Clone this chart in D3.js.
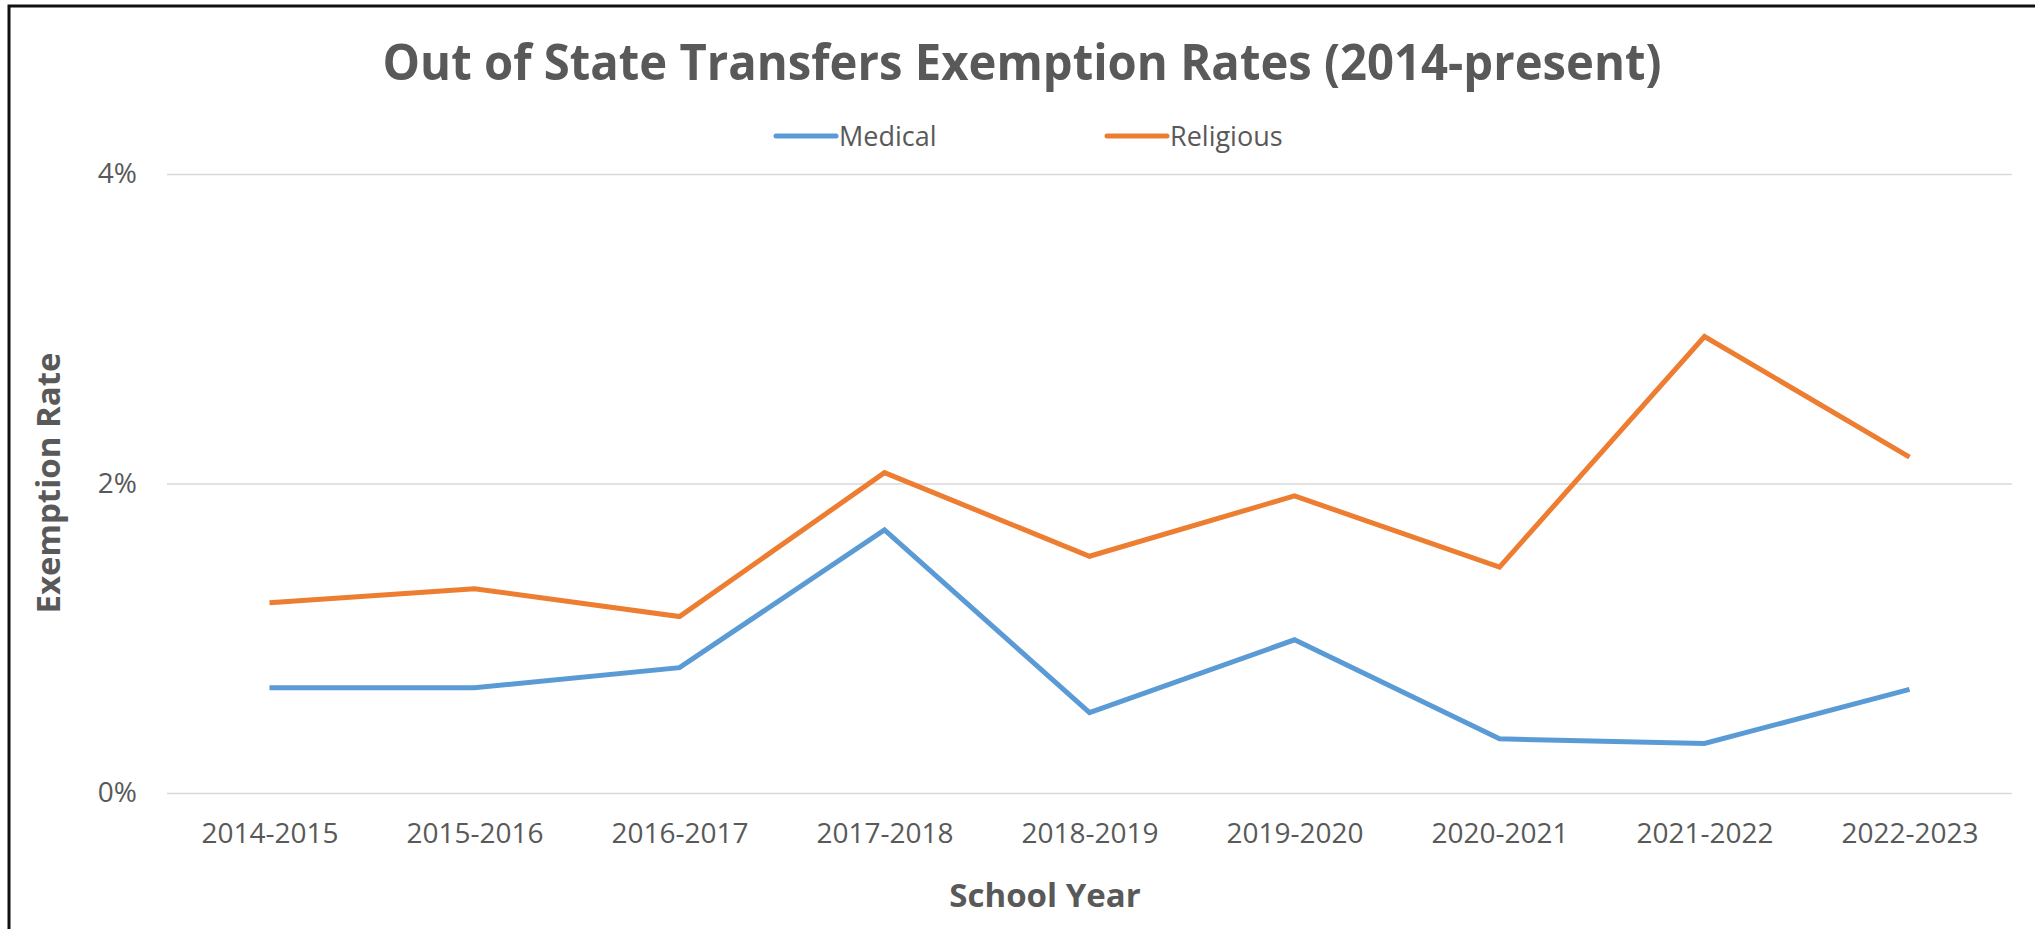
<!DOCTYPE html>
<html>
<head>
<meta charset="utf-8">
<script src="https://cdn.jsdelivr.net/npm/d3@7"></script>
<style>
  html, body { margin: 0; padding: 0; background: #ffffff; }
  svg { display: block; }
  text { font-family: "Open Sans", "Noto Sans", sans-serif; fill: #595959; }
</style>
</head>
<body>
<div id="chart"></div>
<script>
// data
var schoolYears = ['2014-2015', '2015-2016', '2016-2017', '2017-2018', '2018-2019',
                   '2019-2020', '2020-2021', '2021-2022', '2022-2023'];
var medicalRates = [0.0068, 0.0068, 0.0081, 0.0170, 0.0052, 0.0099, 0.0035, 0.0032, 0.0067];
var religiousRates = [0.0123, 0.0132, 0.0114, 0.0207, 0.0153, 0.0192, 0.0146, 0.0295, 0.0217];
var yTicks = [0, 0.02, 0.04];
var seriesNames = ['Medical', 'Religious'];
var seriesColors = ['#5B9BD5', '#ED7D31'];

// some constants for the page
var chartWidth = 2035;
var chartHeight = 929;
var plotLeft = 167;
var plotRight = 2012;
var plotTop = 174;
var plotBottom = 793;

var svg = d3.select('div#chart')
    .append('svg')
    .attr('width', chartWidth)
    .attr('height', chartHeight);

svg.append('rect')
    .attr('x', 0)
    .attr('y', 0)
    .attr('width', chartWidth)
    .attr('height', chartHeight)
    .attr('fill', '#ffffff');

// dark frame on the top and left edges
svg.append('path')
    .attr('d', 'M9,' + chartHeight + ' L9,6 L' + chartWidth + ',6')
    .attr('fill', 'none')
    .attr('stroke', '#111111')
    .attr('stroke-width', 3);

// scales
var x = d3.scalePoint()
    .domain(schoolYears)
    .range([plotLeft, plotRight])
    .padding(0.5);

var y = d3.scaleLinear()
    .domain([0, 0.04])
    .range([plotBottom, plotTop]);

// gridlines + y tick labels
var yAxis = d3.axisLeft(y)
    .tickValues(yTicks)
    .tickSize(-(plotRight - plotLeft))
    .tickPadding(30)
    .tickFormat(d3.format('.0%'));

var yAxisG = svg.append('g')
    .attr('transform', 'translate(' + plotLeft + ',0)')
    .call(yAxis);
yAxisG.select('.domain').remove();
yAxisG.selectAll('.tick line')
    .attr('stroke', '#D9D9D9')
    .attr('stroke-width', 1.5);
yAxisG.selectAll('.tick text')
    .style('font-size', '28px')
    .attr('fill', '#595959');

// x tick labels
var xAxis = d3.axisBottom(x)
    .tickSize(0)
    .tickPadding(30);

var xAxisG = svg.append('g')
    .attr('transform', 'translate(0,' + plotBottom + ')')
    .call(xAxis);
xAxisG.select('.domain').remove();
xAxisG.selectAll('.tick text')
    .style('font-size', '28px')
    .attr('fill', '#595959');

// the two lines
var line = d3.line()
    .x(function(d, i) { return x(schoolYears[i]); })
    .y(function(d) { return y(d); });

var allSeries = [medicalRates, religiousRates];

svg.selectAll('path.series')
    .data(allSeries)
    .enter()
    .append('path')
    .attr('class', 'series')
    .attr('d', line)
    .attr('fill', 'none')
    .attr('stroke', function(d, i) { return seriesColors[i]; })
    .attr('stroke-width', 5)
    .attr('stroke-linejoin', 'miter');

// title
svg.append('text')
    .attr('x', 1022)
    .attr('y', 80)
    .style('text-anchor', 'middle')
    .style('font-size', '50px')
    .style('font-weight', 'bold')
    .attr('textLength', 1279)
    .attr('lengthAdjust', 'spacingAndGlyphs')
    .text('Out of State Transfers Exemption Rates (2014-present)');

// legend
var legendX = [776, 1107];
var legend = svg.selectAll('g.legend')
    .data(seriesNames)
    .enter()
    .append('g')
    .attr('class', 'legend')
    .attr('transform', function(d, i) { return 'translate(' + legendX[i] + ',136)'; });

legend.append('line')
    .attr('x1', 0)
    .attr('x2', 60)
    .attr('y1', 0)
    .attr('y2', 0)
    .attr('stroke', function(d, i) { return seriesColors[i]; })
    .attr('stroke-width', 5)
    .attr('stroke-linecap', 'round');

legend.append('text')
    .attr('x', 63)
    .attr('y', 10)
    .style('font-size', '27px')
    .text(function(d) { return d; });

// axis titles
svg.append('text')
    .attr('x', 1045)
    .attr('y', 907)
    .style('text-anchor', 'middle')
    .style('font-size', '33px')
    .style('font-weight', 'bold')
    .text('School Year');

svg.append('text')
    .attr('transform', 'translate(60,483) rotate(-90)')
    .style('text-anchor', 'middle')
    .style('font-size', '33px')
    .style('font-weight', 'bold')
    .text('Exemption Rate');
</script>
</body>
</html>
